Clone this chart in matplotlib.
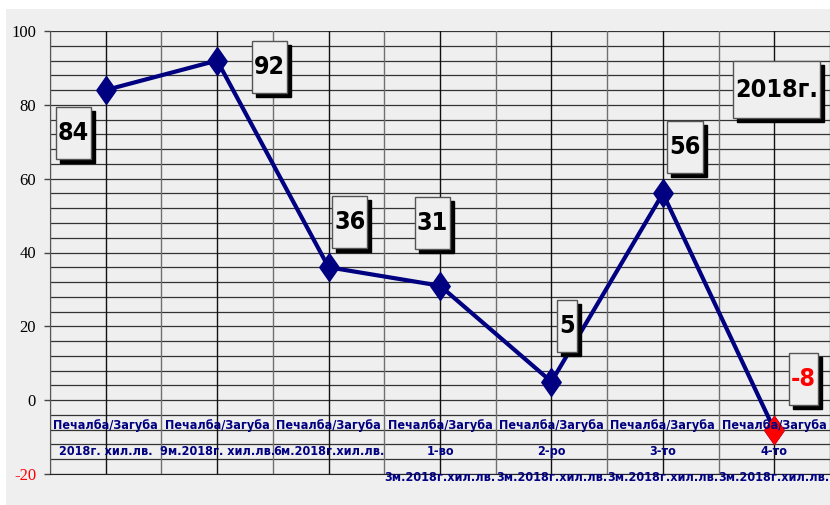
import matplotlib
matplotlib.use('Agg')
import matplotlib.pyplot as plt
from matplotlib import font_manager
from matplotlib.patches import Rectangle
from matplotlib.path import Path
import numpy as np

categories = [
    'Печалба/Загуба\n2018г. хил.лв.',
    'Печалба/Загуба\n9м.2018г. хил.лв.',
    'Печалба/Загуба\n6м.2018г.хил.лв.',
    'Печалба/Загуба\n1-во\n3м.2018г.хил.лв.',
    'Печалба/Загуба\n2-ро\n3м.2018г.хил.лв.',
    'Печалба/Загуба\n3-то\n3м.2018г.хил.лв.',
    'Печалба/Загуба\n4-то\n3м.2018г.хил.лв.',
]
values = [84, 92, 36, 31, 5, 56, -8]
# where the value boxes sit (data coords)
label_x = [-0.29, 1.47, 2.19, 2.93, 4.14, 5.20, 6.26]
label_y = [72.4, 90.2, 48.3, 47.9, 20.0, 68.6, 5.7]
yticks = [-20, 0, 20, 40, 60, 80, 100]
year_label = '2018г.'
year_pos = (6.02, 84.1)

navy = '#000080'
bg = '#efefef'

# look for a narrow bold face, otherwise Liberation Sans
narrow_files = sorted(f.fname for f in font_manager.fontManager.ttflist
                      if ('Narrow' in f.fname or 'Condensed' in f.fname)
                      and 'Bold' in f.fname and 'Italic' not in f.fname
                      and 'Oblique' not in f.fname and 'Extra' not in f.fname
                      and 'Semi' not in f.fname)
if narrow_files:
    bold_font = dict(fontproperties=font_manager.FontProperties(fname=narrow_files[0]))
    cat_size, val_size = 9, 18
else:
    bold_font = dict(family=['Liberation Sans', 'DejaVu Sans'], fontweight='bold')
    cat_size, val_size = 8.5, 16

fig = plt.figure(figsize=(8.3, 5.05), dpi=100, facecolor='white')
fig.patches.append(Rectangle((6 / 830, 0), 1, 496 / 505, transform=fig.transFigure,
                             facecolor=bg, edgecolor='none', zorder=-10))
ax = fig.add_axes([50 / 830, 31 / 505, 780 / 830, 443 / 505])
ax.set_facecolor(bg)
ax.set_xlim(-0.5, 6.5)
ax.set_ylim(-20, 100)

# grid
for y in np.arange(-20, 101, 4):
    ax.axhline(y, color='#333333', lw=0.9, zorder=1)
for i in range(len(values)):
    ax.axvline(i, color='#111111', lw=1, zorder=1)
for b in np.arange(-0.5, len(values), 1.0):
    ax.axvline(b, color='#707070', lw=1, zorder=1)

x = np.arange(len(values))
diamond = Path([(0, 1), (0.7, 0), (0, -1), (-0.7, 0), (0, 1)],
               [Path.MOVETO, Path.LINETO, Path.LINETO, Path.LINETO, Path.CLOSEPOLY])
ax.plot(x, values, color=navy, lw=3, marker=diamond, markersize=20,
        markerfacecolor=navy, markeredgecolor=navy, zorder=3, clip_on=False)
ax.plot(x[-1], values[-1], marker=diamond, markersize=20, color='red', lw=0,
        zorder=3.5, clip_on=False)

for i, cat in enumerate(categories):
    ax.text(i, -5.2, cat, ha='center', va='top', fontsize=cat_size, color=navy,
            linespacing=2.3, zorder=5, **bold_font)

ax.set_xticks([])
ax.set_yticks(yticks)
ax.set_yticklabels([str(t) for t in yticks], family=['Liberation Serif', 'DejaVu Serif'],
                   fontsize=12)
ax.get_yticklabels()[0].set_color('red')
ax.tick_params(axis='y', length=4, width=1, pad=6, color='#444444')
for s in ['top', 'right']:
    ax.spines[s].set_visible(False)
ax.spines['left'].set_color('#555555')
ax.spines['bottom'].set_color('#222222')

texts = []
for v, lx, ly in zip(values, label_x, label_y):
    t = ax.text(lx, ly, str(v), ha='center', va='center', fontsize=val_size,
                color='red' if v < 0 else 'black', zorder=8, **bold_font)
    texts.append((t, 52))
t = ax.text(year_pos[0], year_pos[1], year_label, ha='center', va='center',
            fontsize=val_size, color='black', zorder=8, **bold_font)
texts.append((t, 57))

fig.canvas.draw()
inv = ax.transData.inverted()
for t, h in texts:
    bb = t.get_window_extent()
    cx, cy = (bb.x0 + bb.x1) / 2, (bb.y0 + bb.y1) / 2
    w = bb.width + 4
    for off, fc, ec, z in [(4, 'black', 'black', 6), (0, bg, '#555555', 7)]:
        (x0, y0) = inv.transform((cx - w / 2 + off, cy - h / 2 - off))
        (x1, y1) = inv.transform((cx + w / 2 + off, cy + h / 2 - off))
        ax.add_patch(Rectangle((x0, y0), x1 - x0, y1 - y0, facecolor=fc, edgecolor=ec,
                               lw=1, zorder=z, clip_on=False))

fig.savefig('out.png', dpi=100, facecolor=fig.get_facecolor())
